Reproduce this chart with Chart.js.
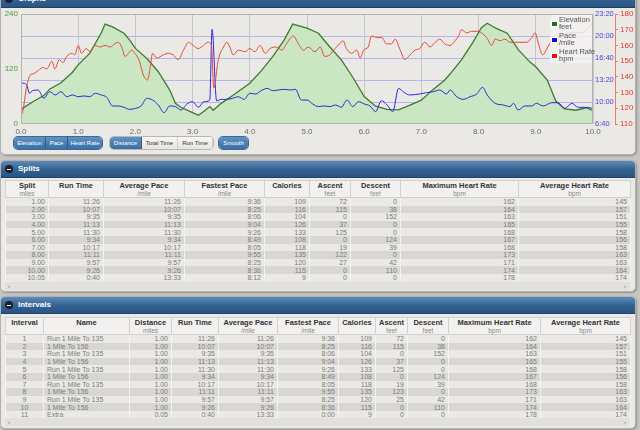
<!DOCTYPE html>
<html>
<head>
<meta charset="utf-8">
<script src="https://cdn.jsdelivr.net/npm/chart.js@4.4.0/dist/chart.umd.min.js"></script>
<style>
  body { margin: 0; width: 640px; height: 430px; overflow: hidden; background: #c8c6c2; position: relative;
         font-family: "Liberation Sans", Arial, sans-serif; }
  .panel { position: absolute; left: 0; width: 634px; background: #ebe9e6; border: 1px solid #b3b1ad;
           border-radius: 5px; box-shadow: 1px 1px 2px rgba(0,0,0,.25); overflow: hidden; }
  .head { position: relative; height: 16px; line-height: 16px; padding-left: 17px; color: #fff; font-weight: bold;
          font-size: 8px; background: linear-gradient(#5d8bbb, #33618f 55%, #2a5583); border-bottom: 1px solid #1f4369; }
  .head i { position: absolute; left: 4px; top: 4px; width: 8px; height: 8px; border-radius: 50%; background: #1b1f2c; }
  .head i:after { content: ""; position: absolute; left: 2px; top: 3.5px; width: 4px; height: 1px; background: #fff; }
  #graphs { top: -10px; height: 163px; }
  canvas { position: absolute; left: 0; top: 0; }
  .grp { position: absolute; top: 137px; height: 12px; display: flex; border-radius: 4px; overflow: hidden;
         font-size: 6px; line-height: 12px; box-shadow: 0 0 0 1px #3b6a99; }
  .grp span { display: block; text-align: center; color: #fff; background: linear-gradient(#5f93c6, #3b6fa4);
              border-right: 1px solid #2e5e8e; }
  .grp span:last-child { border-right: 0; }
  .grp span.off { color: #333; background: linear-gradient(#f8f7f5, #e6e4e1); border-right: 1px solid #cfcdc9; }
  .grp.two { box-shadow: 0 0 0 1px #b9b7b3; }
  table { position: absolute; left: 4px; border-collapse: collapse; table-layout: fixed; width: 625px; }
  th { background: #f2f1ef; color: #333; font-size: 7.5px; font-weight: bold; vertical-align: top;
       border: 1px solid #d3d1cd; padding: 1px 2px 0; line-height: 8px; height: 14px; }
  th small { display: block; font-weight: normal; color: #8a8a8a; font-size: 6.5px; line-height: 7px; }
  td { font-size: 7px; line-height: 7px; height: 7.6px; padding: 0 3px; color: #7c7c7c; text-align: right;
       border-left: 1px solid #f4f3f1; border-right: 1px solid #f4f3f1; white-space: nowrap; overflow: hidden; }
  tr:nth-child(odd) td { background: #d9d7d3; }
  tr:nth-child(even) td { background: #ebe9e6; }
  td.c { text-align: center; }
  td.l { text-align: left; }
  .scroll { position: absolute; left: 4px; width: 625px; height: 8px; background: #e2e0dd; font-size: 6px;
            color: #777; line-height: 8px; }
  .scroll b { position: absolute; top: 0; font-weight: normal; }
</style>
</head>
<body>

<div class="panel" id="graphs"><div class="head"><i></i>Graphs</div></div>
<canvas id="trackChart" width="640" height="136"></canvas>

<div class="grp" style="left:14px"><span style="width:31px">Elevation</span><span style="width:21px">Pace</span><span style="width:34px">Heart Rate</span></div>
<div class="grp two" style="left:110px"><span style="width:31px">Distance</span><span class="off" style="width:35px">Total Time</span><span class="off" style="width:34px">Run Time</span></div>
<div class="grp" style="left:219px"><span style="width:29px">Smooth</span></div>

<div class="panel" style="top:160px;height:130px">
  <div class="head"><i></i>Splits</div>
  <table id="splitsTable" style="top:19px"></table>
  <div class="scroll" style="top:121px"><b style="left:3px">&lsaquo;</b><b style="right:4px">&rsaquo;</b></div>
</div>

<div class="panel" style="top:296px;height:131px">
  <div class="head"><i></i>Intervals</div>
  <table id="intervalsTable" style="top:20px"></table>
  <div class="scroll" style="top:121px"><b style="left:3px">&lsaquo;</b><b style="right:4px">&rsaquo;</b></div>
</div>

<script>
// Graph data (distance in miles)
const elevDist = [0, 0.2, 0.4, 0.5, 0.7, 0.9, 1.0, 1.2, 1.4, 1.47, 1.6, 1.8, 1.9, 2.0, 2.2, 2.4, 2.6, 2.7, 2.8, 3.0, 3.1, 3.2, 3.3,
  3.36, 3.5, 3.7, 4.0, 4.2, 4.4, 4.6, 4.75, 5.0, 5.2, 5.4, 5.6, 5.8, 6.0, 6.2, 6.4, 6.6, 6.8, 7.0, 7.2, 7.4, 7.5, 7.7,
  7.9, 8.05, 8.15, 8.3, 8.5, 8.7, 8.9, 9.0, 9.2, 9.35, 9.5, 9.7, 9.9, 10.0];
const elevFeet = [32, 48, 62, 76, 90, 113, 129, 154, 198, 218, 212, 198, 183, 165, 143, 114, 74, 45, 36, 25, 19, 28, 38,
  30, 45, 62, 89, 116, 147, 183, 218, 209, 198, 168, 140, 102, 60, 39, 32, 31, 41, 52, 75, 95, 109, 140,
  178, 210, 220, 209, 198, 161, 135, 125, 96, 50, 33, 30, 36, 34];

const paceDist = [0, 0.05, 0.1, 0.15, 0.2, 0.3, 0.4, 0.5, 0.6, 0.7, 0.8, 0.9, 1.0, 1.1, 1.2, 1.3, 1.4, 1.5, 1.6, 1.7,
  1.8, 1.9, 2.0, 2.1, 2.2, 2.3, 2.4, 2.5, 2.6, 2.7, 2.8, 2.9, 3.0, 3.1, 3.2, 3.3, 3.34, 3.42, 3.5, 3.6, 3.7, 3.8, 3.9,
  4.0, 4.1, 4.2, 4.3, 4.4, 4.5, 4.6, 4.7, 4.8, 4.9, 5.0, 5.1, 5.2, 5.3, 5.4, 5.5, 5.6, 5.7, 5.8, 5.9, 6.0, 6.1, 6.2,
  6.3, 6.4, 6.5, 6.6, 6.7, 6.8, 6.97, 7.09, 7.21, 7.32, 7.44, 7.5, 7.62, 7.73, 7.85, 7.96, 8.07, 8.15, 8.29, 8.43,
  8.55, 8.61, 8.69, 8.81, 8.93, 9.01, 9.13, 9.28, 9.39, 9.51, 9.63, 9.74, 9.86, 9.97, 10.0];
// seconds per mile
const paceSec = [775, 770, 755, 679, 703, 709, 634, 694, 664, 694, 648, 664, 648, 655, 648, 679, 664, 642, 564, 564,
  552, 533, 542, 564, 634, 618, 573, 503, 564, 558, 527, 582, 603, 552, 603, 618, 1260, 610, 624, 624, 634, 648, 624,
  679, 673, 703, 724, 703, 709, 715, 709, 715, 618, 618, 582, 558, 564, 558, 573, 552, 618, 558, 603, 582, 564, 512,
  612, 573, 512, 724, 685, 664, 673, 685, 694, 709, 673, 709, 648, 624, 648, 670, 733, 664, 588, 573,
  558, 588, 527, 564, 564, 588, 564, 594, 594, 542, 588, 552, 552, 527, 535];

const hrDist = [0, 0.03, 0.1, 0.16, 0.22, 0.3, 0.39, 0.45, 0.54, 0.59, 0.67, 0.73, 0.8, 0.89, 0.94, 1.0, 1.06, 1.14,
  1.21, 1.29, 1.38, 1.47, 1.56, 1.64, 1.7, 1.76, 1.82, 1.88, 1.93, 1.99, 2.07, 2.14, 2.21, 2.26, 2.3, 2.37, 2.49,
  2.58, 2.66, 2.75, 2.84, 2.93, 3.01, 3.1, 3.19, 3.27, 3.33, 3.37, 3.45, 3.54, 3.6, 3.65, 3.71, 3.8, 3.92, 4.0, 4.09,
  4.18, 4.27, 4.35, 4.47, 4.56, 4.64, 4.76, 4.85, 4.94, 5.02, 5.14, 5.23, 5.31, 5.4, 5.49, 5.57, 5.63, 5.69, 5.78,
  5.87, 5.93, 5.99, 6.07, 6.13, 6.22, 6.31, 6.39, 6.48, 6.54, 6.63, 6.71, 6.8, 6.89, 6.97, 7.06, 7.15, 7.24, 7.32,
  7.41, 7.5, 7.59, 7.65, 7.7, 7.79, 7.88, 7.97, 8.05, 8.14, 8.23, 8.29, 8.38, 8.46, 8.55, 8.64, 8.72, 8.84, 8.93,
  8.99, 9.04, 9.12, 9.21, 9.3, 9.45, 9.6, 9.75, 9.9, 10.0];
const hrBpm = [116, 118, 134, 141, 142, 144, 146, 145, 150, 145, 151, 149, 153, 155, 154, 160, 155, 158,
  156, 160, 159, 160, 159, 161, 162, 159, 153, 155, 157, 155, 150, 141, 138, 146, 155, 152, 154,
  155, 154, 151, 157, 162, 160, 158, 160, 162, 160, 133, 151, 159, 162, 159, 154, 157, 156, 158, 156,
  160, 155, 158, 159, 157, 161, 166, 161, 157, 159, 156, 159, 153, 154, 158, 161, 163, 158, 155,
  157, 152, 157, 159, 166, 165, 165, 161, 161, 164, 157, 151, 154, 157, 158, 162, 159, 162, 164,
  161, 160, 163, 166, 170, 168, 169, 169, 168, 165, 160, 164, 163, 164, 162, 162, 162, 162, 165,
  168, 162, 154, 159, 164, 166, 168, 168, 170, 175];

const distTicks = [0, 1, 2, 3, 4, 5, 6, 7, 8, 9, 10];

// Table data
const splitMiles = ['1.00', '2.00', '3.00', '4.00', '5.00', '6.00', '7.00', '8.00', '9.00', '10.00', '10.05'];
const runTime = ['11:26', '10:07', '9:35', '11:13', '11:30', '9:34', '10:17', '11:11', '9:57', '9:26', '0:40'];
const avgPace = ['11:26', '10:07', '9:35', '11:13', '11:30', '9:34', '10:17', '11:11', '9:57', '9:26', '13:33'];
const splitFastest = ['9:36', '8:25', '8:06', '9:04', '9:26', '8:49', '8:05', '9:55', '8:25', '8:36', '8:12'];
const calories = [109, 116, 104, 126, 133, 108, 118, 135, 120, 115, 9];
const splitAscent = [72, 115, 0, 37, 125, 0, 19, 122, 27, 0, 0];
const descent = [0, 38, 152, 0, 0, 124, 39, 0, 42, 110, 0];
const maxHr = [162, 164, 163, 165, 168, 167, 168, 173, 171, 174, 178];
const avgHr = [145, 157, 151, 155, 158, 156, 158, 163, 163, 164, 174];

const intervalNo = [1, 2, 3, 4, 5, 6, 7, 8, 9, 10, 11];
const intervalNames = ['Run 1 Mile To 135', '1 Mile To 156', 'Run 1 Mile To 135', '1 Mile To 156', 'Run 1 Mile To 135',
  '1 Mile To 156', 'Run 1 Mile To 135', '1 Mile To 156', 'Run 1 Mile To 135', '1 Mile To 156', 'Extra'];
const intervalDist = ['1.00', '1.00', '1.00', '1.00', '1.00', '1.00', '1.00', '1.00', '1.00', '1.00', '0.05'];
const intervalFastest = ['9:36', '8:25', '8:06', '9:04', '9:26', '8:49', '8:05', '9:55', '8:25', '8:36', '0:00'];
const intervalAscent = [72, 115, 0, 37, 125, 0, 19, 123, 25, 0, 0];

function fmtPace(v) {
  const m = Math.floor(v / 60), s = v % 60;
  return m + ':' + String(s).padStart(2, '0');
}

function pts(xs, ys) {
  return xs.map((x, i) => ({ x: x, y: ys[i] }));
}

// plot frame + legend drawn inside the chart area
const frameAndLegend = {
  id: 'frameAndLegend',
  afterDatasetsDraw(chart) {
    const a = chart.chartArea, ctx = chart.ctx;
    ctx.save();
    ctx.strokeStyle = '#b2b2b2';
    ctx.lineWidth = 1;
    ctx.strokeRect(a.left + 0.5, a.top + 0.5, a.right - a.left - 1, a.bottom - a.top - 1);
    ctx.restore();
  },
  afterDraw(chart) {
    const a = chart.chartArea, ctx = chart.ctx;
    const x = a.right - 43, y = a.top + 1;
    const items = [['#1f6b1f', 'Elevation', 'feet'], ['#1010d0', 'Pace', '/mile'], ['#e01010', 'Heart Rate', 'bpm']];
    ctx.save();
    ctx.fillStyle = 'rgba(244,243,241,0.8)';
    ctx.fillRect(x, y, 42, 48);
    ctx.font = '7.5px "Liberation Sans", Arial, sans-serif';
    ctx.textBaseline = 'middle';
    items.forEach((it, i) => {
      const top = y + i * 16;
      ctx.fillStyle = '#fff';
      ctx.fillRect(x + 1, top + 6, 7, 6);
      ctx.fillStyle = it[0];
      ctx.fillRect(x + 2, top + 7, 5, 4);
      ctx.fillStyle = '#555';
      ctx.fillText(it[1], x + 9, top + 4.5);
      ctx.fillText(it[2], x + 9, top + 12);
    });
    ctx.restore();
  }
};

Chart.defaults.font.family = '"Liberation Sans", Arial, sans-serif';

const ctx = document.getElementById('trackChart').getContext('2d');
new Chart(ctx, {
  type: 'line',
  data: {
    datasets: [
      {
        label: 'Elevation',
        data: pts(elevDist, elevFeet),
        yAxisID: 'y',
        borderColor: '#3e7a2e',
        backgroundColor: '#cbe6c2',
        borderWidth: 1.3,
        fill: 'origin',
        pointRadius: 0,
        tension: 0,
        order: 3
      },
      {
        label: 'Pace',
        data: pts(paceDist, paceSec),
        yAxisID: 'pace',
        borderColor: '#2a2ad6',
        borderWidth: 1,
        fill: false,
        pointRadius: 0,
        cubicInterpolationMode: 'monotone',
        order: 2
      },
      {
        label: 'Heart Rate',
        data: pts(hrDist, hrBpm),
        yAxisID: 'hr',
        borderColor: '#e5483f',
        borderWidth: 1,
        fill: false,
        pointRadius: 0,
        cubicInterpolationMode: 'monotone',
        order: 1
      }
    ]
  },
  options: {
    responsive: false,
    animation: false,
    layout: { autoPadding: false, padding: { top: 14, left: 0, right: 0, bottom: 0 } },
    plugins: {
      legend: { display: false },
      tooltip: { enabled: false }
    },
    scales: {
      x: {
        type: 'linear',
        min: 0,
        max: 10,
        afterBuildTicks: s => { s.ticks = distTicks.map(v => ({ value: v })); },
        afterFit: s => { s.height = 12; },
        ticks: { callback: v => v.toFixed(1), color: '#6c6c6c', font: { size: 8 }, padding: 3, maxRotation: 0 },
        grid: { color: '#c6c6c6', drawTicks: false },
        border: { display: false }
      },
      y: {
        position: 'left',
        min: 0,
        max: 240,
        ticks: { stepSize: 120, color: '#4f9a3e', font: { size: 8 }, padding: 3 },
        grid: { display: false, drawTicks: false },
        border: { display: false },
        afterFit: s => { s.width = 21; }
      },
      pace: {
        position: 'right',
        weight: 0,
        min: 400,
        max: 1400,
        ticks: { stepSize: 200, callback: v => fmtPace(v), color: '#4646d2', font: { size: 7.5 }, padding: 2 },
        grid: {
          drawTicks: false,
          color: c => (c.tick && (c.tick.value === 400 || c.tick.value === 1400)) ? 'rgba(0,0,0,0)' : '#b6b6ee'
        },
        border: { display: false },
        afterFit: s => { s.width = 22; }
      },
      hr: {
        position: 'right',
        weight: 1,
        min: 110,
        max: 180,
        ticks: { stepSize: 10, color: '#e0382e', font: { size: 8 }, padding: 2 },
        grid: { drawOnChartArea: false, drawTicks: true, tickLength: 3, color: '#e87a74' },
        border: { display: true, color: '#e87a74' },
        afterFit: s => { s.width = 25; }
      }
    }
  },
  plugins: [frameAndLegend]
});

// tables
function buildTable(id, cols, columns, widths) {
  const t = document.getElementById(id);
  let html = '<colgroup>' + widths.map(w => '<col style="width:' + w + 'px">').join('') + '</colgroup><tr>';
  cols.forEach(c => { html += '<th>' + c[0] + (c[1] ? '<small>' + c[1] + '</small>' : '') + '</th>'; });
  html += '</tr>';
  for (let r = 0; r < columns[0].length; r++) {
    html += '<tr>';
    columns.forEach((col, k) => {
      const cls = cols[k][2] || '';
      html += '<td class="' + cls + '">' + col[r] + '</td>';
    });
    html += '</tr>';
  }
  t.innerHTML = html;
}

buildTable('splitsTable',
  [['Split', 'miles'], ['Run Time'], ['Average Pace', '/mile'], ['Fastest Pace', '/mile'], ['Calories'],
   ['Ascent', 'feet'], ['Descent', 'feet'], ['Maximum Heart Rate', 'bpm'], ['Average Heart Rate', 'bpm']],
  [splitMiles, runTime, avgPace, splitFastest, calories, splitAscent, descent, maxHr, avgHr],
  [43, 55, 81, 80, 45, 41, 50, 118, 112]);

buildTable('intervalsTable',
  [['Interval', '', 'c'], ['Name', '', 'l'], ['Distance', 'miles'], ['Run Time'], ['Average Pace', '/mile'],
   ['Fastest Pace', '/mile'], ['Calories'], ['Ascent', 'feet'], ['Descent', 'feet'],
   ['Maximum Heart Rate', 'bpm'], ['Average Heart Rate', 'bpm']],
  [intervalNo, intervalNames, intervalDist, runTime, avgPace, intervalFastest, calories, intervalAscent, descent, maxHr, avgHr],
  [38, 86, 42, 47, 59, 61, 37, 32, 41, 92, 90]);
</script>
</body>
</html>
